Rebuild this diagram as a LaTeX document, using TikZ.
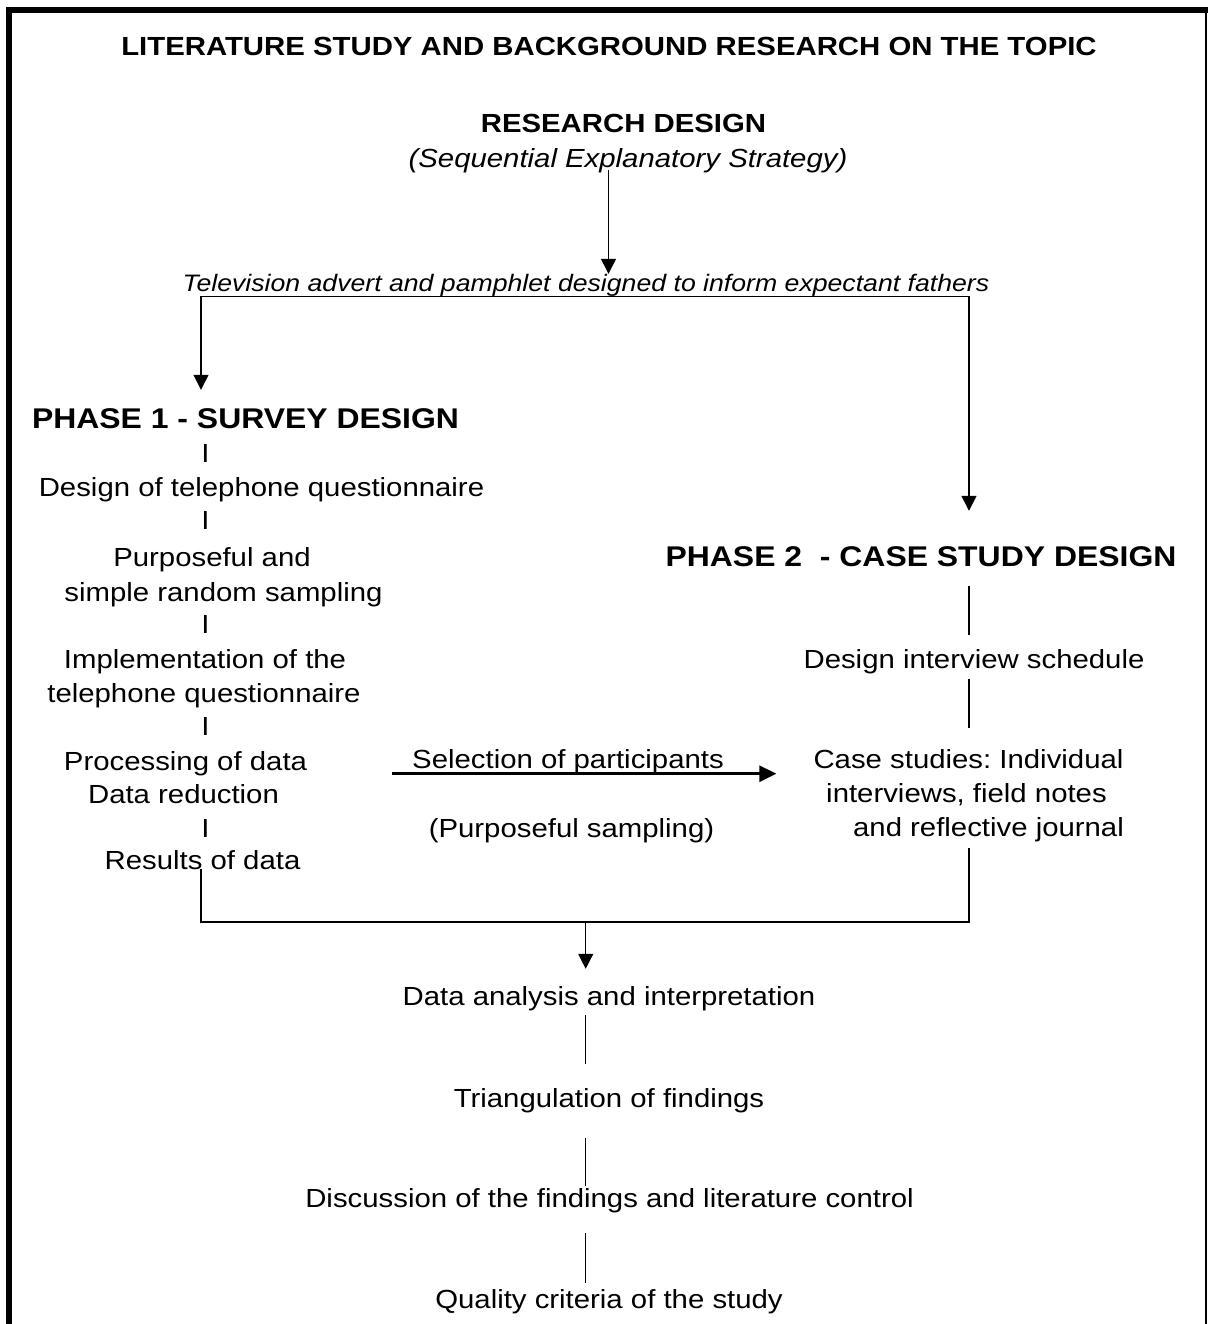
\documentclass[tikz,border=0pt]{standalone}
\usepackage{fontspec}
\setmainfont{Liberation Sans}[FakeStretch=1.12]
\usetikzlibrary{arrows.meta}
\frenchspacing
\tikzstyle{txt} = [inner sep=0pt, anchor=base, text height=19pt, text depth=5.5pt, font=\fontsize{26.2}{31}\selectfont]
\tikzstyle{hd} = [txt, font=\fontsize{26.2}{31}\selectfont\bfseries]
\tikzstyle{phase} = [txt, text height=20.5pt, text depth=6pt, font=\fontsize{28.5}{34}\selectfont\bfseries]
\tikzstyle{itl} = [txt, font=\fontsize{26.2}{31}\selectfont\itshape]
\tikzstyle{tvtxt} = [txt, text height=17pt, text depth=5pt, font=\fontsize{23.8}{28}\selectfont\itshape]
\tikzstyle{link} = [line width=1.4pt]
\tikzstyle{arrow} = [link, -{Triangle[length=15pt,width=15pt]}]
\tikzstyle{split} = [link, {Triangle[length=15pt,width=15pt]}-{Triangle[length=15pt,width=15pt]}]
\tikzstyle{bigarrow} = [line width=2.7pt, -{Triangle[length=17pt,width=16pt]}]
\begin{document}
\begin{tikzpicture}[x=1pt,y=-1pt]
      \useasboundingbox (0,0) rectangle (1208,1324);
      \fill (6,7) rectangle (1208,13);
      \fill (6,7) rectangle (12,1324);
      \draw[line width=1.5pt] (1206,13) -- (1206,1324);
      \coordinate (colL) at (201,0);
      \coordinate (colR) at (969,0);
      \coordinate (colC) at (585.7,0);
      \coordinate (colT) at (608.5,0);
      \coordinate (merge) at (585.7,922);
      \node (title) at (609,56) [hd] {LITERATURE STUDY AND BACKGROUND RESEARCH ON THE TOPIC};
      \node (rd) at (623.5,133) [hd] {RESEARCH DESIGN};
      \node (seq) at (628,168) [itl] {(Sequential Explanatory Strategy)};
      \node (tv) at (586,291) [tvtxt] {Television advert and pamphlet designed to inform expectant fathers};
      \node (ph1) at (245.5,428) [phase] {PHASE 1 - SURVEY DESIGN};
      \node (i1) at (205.5,462) [txt] {I};
      \node (d1) at (261.5,496) [txt] {Design of telephone questionnaire};
      \node (i2) at (205.5,529) [txt] {I};
      \node (d2) at (212,566) [txt] {Purposeful and};
      \node (d3) at (223.5,601) [txt] {simple random sampling};
      \node (i3) at (205.5,633) [txt] {I};
      \node (d4) at (205,668) [txt] {Implementation of the};
      \node (d5) at (204,702) [txt] {telephone questionnaire};
      \node (i4) at (205.5,735) [txt] {I};
      \node (proc) at (185.5,770) [txt] {Processing of data};
      \node (red) at (183.5,803) [txt] {Data reduction};
      \node (i5) at (205.5,837) [txt] {I};
      \node (res) at (202.5,869) [txt] {Results of data};
      \node (ph2) at (921,566) [phase] {PHASE 2~ - CASE STUDY DESIGN};
      \node (sched) at (974,668) [txt] {Design interview schedule};
      \node (cas1) at (968.5,768) [txt] {Case studies: Individual};
      \node (cas2) at (966.5,802) [txt] {interviews, field notes};
      \node (cas3) at (988.5,836) [txt] {and reflective journal};
      \node (sel) at (568,768) [txt] {Selection of participants};
      \node (purp) at (571.5,837) [txt] {(Purposeful sampling)};
      \node (ana) at (609,1005) [txt] {Data analysis and interpretation};
      \node (tri) at (609,1107) [txt] {Triangulation of findings};
      \node (disc) at (609.5,1207) [txt] {Discussion of the findings and literature control};
      \node (qual) at (609,1308) [txt] {Quality criteria of the study};
      \draw[arrow, shorten <=-3.5pt] (seq.south -| colT) -- (tv.north -| colT);
      \draw[split, shorten <=17.5pt, shorten >=34.5pt] (ph1.north -| colL) -- (tv.south -| colL) -- (tv.south -| colR) -- (ph2.north -| colR);
      \draw[link, shorten <=14pt, shorten >=14pt] (ph2.south -| colR) -- (sched.north -| colR);
      \draw[link, shorten <=5.5pt, shorten >=21pt] (sched.south -| colR) -- (cas1.north -| colR);
      \draw[bigarrow, shorten <=85pt, shorten >=37pt] (proc.east |- sel.south) -- (cas1.west |- sel.south);
      \draw[link, shorten >=6.5pt] (res.base -| colL) |- (merge) -| (cas3.south -| colR);
      \draw[arrow, shorten >=17pt] (merge) -- (ana.north -| colC);
      \draw[link, shorten <=4.5pt, shorten >=24pt] (ana.south -| colC) -- (tri.north -| colC);
      \draw[link, shorten <=25.5pt, shorten >=2pt] (tri.south -| colC) -- (disc.north -| colC);
      \draw[link, shorten <=20.5pt, shorten >=6pt] (disc.south -| colC) -- (qual.north -| colC);
\end{tikzpicture}
\end{document}
